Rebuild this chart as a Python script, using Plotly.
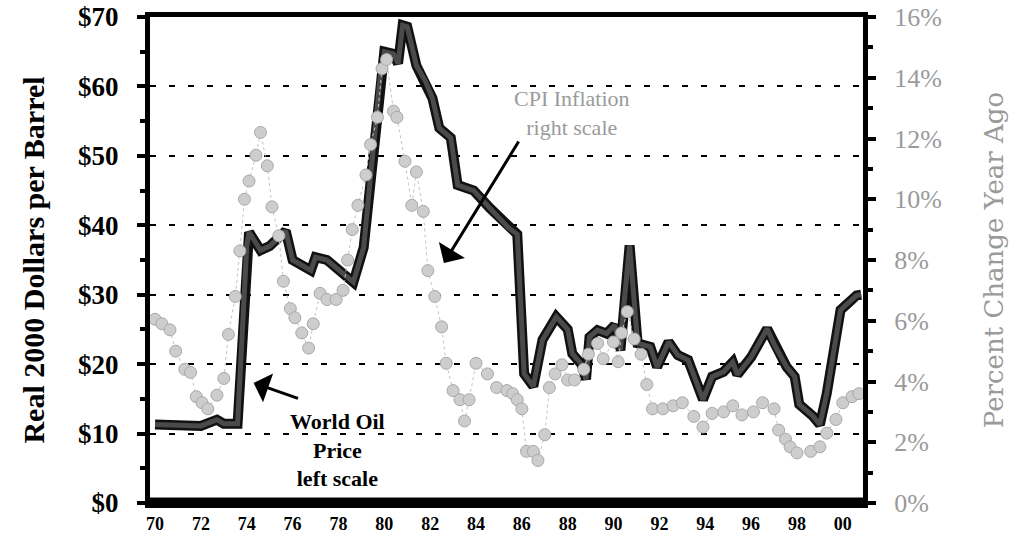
import plotly.graph_objects as go

# ---------------- data ----------------
oil_year = [1970.0, 1971.0, 1972.0, 1972.7, 1973.0, 1973.6, 1973.8, 1974.0, 1974.1, 1974.6,
            1975.0, 1975.7, 1976.0, 1976.8, 1977.0, 1977.5, 1978.4, 1978.65, 1979.1, 1979.5,
            1979.8, 1980.0, 1980.4, 1980.6, 1980.8, 1981.0, 1981.4, 1981.8, 1982.1, 1982.4,
            1982.9, 1983.2, 1983.9, 1984.6, 1985.4, 1985.8, 1986.1, 1986.5, 1986.9, 1987.5,
            1988.0, 1988.2, 1988.6, 1988.8, 1988.95, 1989.3, 1989.7, 1990.05, 1990.3, 1990.4,
            1990.7, 1991.05, 1991.6, 1991.9, 1992.4, 1992.8, 1993.25, 1993.9, 1994.3, 1994.8,
            1995.2, 1995.4, 1996.0, 1996.7, 1997.0, 1997.55, 1997.9, 1998.1, 1998.7, 1999.0,
            1999.3, 1999.9, 2000.2, 2000.6, 2000.8]
oil_price = [11.3, 11.2, 11.1, 12.0, 11.4, 11.4, 25.0, 37.0, 39.0, 36.4,
             37.0, 39.2, 35.0, 33.5, 35.4, 35.0, 32.5, 31.8, 36.8, 49.7,
             60.7, 65.0, 64.7, 63.3, 68.8, 68.6, 63.0, 60.7, 58.3, 54.0,
             52.6, 45.8, 45.0, 42.5, 39.7, 38.7, 18.6, 16.8, 23.5, 26.8,
             25.0, 21.5, 20.0, 17.8, 23.9, 24.9, 24.4, 25.6, 22.0, 26.8,
             37.1, 23.0, 22.5, 19.6, 23.2, 21.3, 20.6, 14.9, 18.2, 18.9,
             20.3, 18.5, 21.0, 25.1, 22.9, 19.6, 18.2, 14.2, 12.5, 11.3,
             15.8, 27.8, 28.7, 29.9, 30.0]

cpi_year = [1970.0, 1970.3, 1970.65, 1970.9, 1971.3, 1971.55, 1971.8, 1972.05, 1972.3, 1972.7,
            1973.0, 1973.2, 1973.5, 1973.7, 1973.9, 1974.1, 1974.4, 1974.6, 1974.9, 1975.1,
            1975.4, 1975.6, 1975.9, 1976.1, 1976.4, 1976.7, 1976.9, 1977.2, 1977.5, 1977.9,
            1978.2, 1978.4, 1978.6, 1978.85, 1979.2, 1979.4, 1979.7, 1979.9, 1980.1, 1980.4,
            1980.55, 1980.9, 1981.2, 1981.4, 1981.7, 1981.9, 1982.2, 1982.5, 1982.7, 1983.0,
            1983.3, 1983.5, 1983.7, 1984.0, 1984.5, 1984.9, 1985.35, 1985.6, 1985.8, 1986.0,
            1986.2, 1986.5, 1986.7, 1987.0, 1987.2, 1987.45, 1987.75, 1988.0, 1988.3, 1988.7,
            1988.9, 1989.3, 1989.55, 1990.0, 1990.2, 1990.35, 1990.6, 1990.9, 1991.2, 1991.45,
            1991.7, 1992.15, 1992.6, 1993.0, 1993.5, 1993.9, 1994.3, 1994.8, 1995.2, 1995.6,
            1996.1, 1996.5, 1997.0, 1997.2, 1997.5, 1997.7, 1998.0, 1998.6, 1999.0, 1999.3,
            1999.7, 2000.0, 2000.4, 2000.7]
cpi_pct = [6.05, 5.9, 5.7, 5.0, 4.4, 4.3, 3.5, 3.3, 3.1, 3.55,
           4.1, 5.55, 6.8, 8.3, 10.0, 10.6, 11.45, 12.2, 11.1, 9.75,
           8.8, 7.3, 6.4, 6.1, 5.6, 5.1, 5.9, 6.9, 6.7, 6.7,
           7.0, 8.0, 9.0, 9.8, 10.8, 11.8, 12.7, 14.3, 14.6, 12.9,
           12.7, 11.25, 9.8, 10.9, 9.6, 7.65, 6.8, 5.8, 4.6, 3.7,
           3.4, 2.7, 3.4, 4.6, 4.25, 3.8, 3.7, 3.6, 3.4, 3.1,
           1.7, 1.7, 1.4, 2.25, 3.8, 4.25, 4.55, 4.05, 4.05, 4.4,
           4.9, 5.25, 4.75, 5.3, 4.65, 5.6, 6.3, 5.4, 4.9, 3.9,
           3.1, 3.1, 3.2, 3.3, 2.85, 2.5, 2.95, 3.0, 3.2, 2.9,
           3.0, 3.3, 3.1, 2.4, 2.1, 1.85, 1.65, 1.7, 1.85, 2.3,
           2.75, 3.3, 3.5, 3.6]

x_tick_vals = [1970, 1972, 1974, 1976, 1978, 1980, 1982, 1984, 1986, 1988,
               1990, 1992, 1994, 1996, 1998, 2000]
x_tick_text = ["70", "72", "74", "76", "78", "80", "82", "84", "86", "88",
               "90", "92", "94", "96", "98", "00"]
left_tick_vals = [0, 10, 20, 30, 40, 50, 60, 70]
left_tick_text = ["$0", "$10", "$20", "$30", "$40", "$50", "$60", "$70"]
right_tick_vals = [0, 2, 4, 6, 8, 10, 12, 14, 16]
right_tick_text = ["0%", "2%", "4%", "6%", "8%", "10%", "12%", "14%", "16%"]

SERIF = "Liberation Serif, Times New Roman, serif"
GREY_TXT = "#9a9a9a"

fig = go.Figure()

# oil price: dark outline + dark grey core
fig.add_trace(go.Scatter(x=oil_year, y=oil_price, mode="lines",
                         line=dict(color="#111111", width=10), yaxis="y",
                         showlegend=False, hoverinfo="skip"))
fig.add_trace(go.Scatter(x=oil_year, y=oil_price, mode="lines",
                         line=dict(color="#4a4a4a", width=5), yaxis="y",
                         showlegend=False))

# CPI inflation dots
fig.add_trace(go.Scatter(x=cpi_year, y=cpi_pct, mode="lines+markers", yaxis="y2",
                         line=dict(color="#c4c4c4", width=1, dash="dot"),
                         marker=dict(size=12, color="#cdcdcd",
                                     line=dict(color="#a8a8a8", width=1)),
                         showlegend=False))

fig.update_layout(
    width=1009, height=536,
    margin=dict(l=150, r=146, t=17, b=33, autoexpand=False),
    paper_bgcolor="white", plot_bgcolor="white",
    xaxis=dict(range=[1969.78, 2000.88], tickvals=x_tick_vals, ticktext=x_tick_text,
               showgrid=False, zeroline=False, showline=True, linecolor="black",
               linewidth=5, mirror=True, ticks="", automargin=False,
               ticklabelstandoff=0, ticklabeloverflow="allow",
               tickfont=dict(family=SERIF, size=18, color="black", weight="bold")),
    yaxis=dict(range=[0, 70], tickvals=left_tick_vals, ticktext=left_tick_text,
               showgrid=True, gridcolor="black", gridwidth=2, griddash="6px,13px",
               zeroline=False, showline=True, linecolor="black", linewidth=5,
               automargin=False, ticklabeloverflow="allow",
               ticks="outside", ticklen=8, tickwidth=4, tickcolor="black",
               ticklabelstandoff=13,
               minor=dict(dtick=5, ticks="outside", ticklen=5, tickwidth=4,
                          tickcolor="black", showgrid=False),
               tickfont=dict(family=SERIF, size=27, color="black", weight="bold"),
               title=dict(text="Real 2000 Dollars per Barrel", standoff=26,
                          font=dict(family=SERIF, size=30, color="black", weight="bold"))),
    yaxis2=dict(range=[0, 16], tickvals=right_tick_vals, ticktext=right_tick_text,
                overlaying="y", side="right", showgrid=False, zeroline=False,
                showline=True, linecolor="black", linewidth=5, automargin=False,
                ticklabeloverflow="allow",
                ticks="outside", ticklen=8, tickwidth=4, tickcolor="black",
                ticklabelstandoff=13,
                minor=dict(dtick=1, ticks="outside", ticklen=5, tickwidth=4,
                           tickcolor="black"),
                tickfont=dict(family=SERIF, size=26, color=GREY_TXT),
                title=dict(text="Percent Change Year Ago", standoff=52,
                           font=dict(family="DejaVu Serif, serif", size=26, color=GREY_TXT))),
)

# thick bottom axis band
fig.add_shape(type="line", xref="paper", yref="y", x0=0, x1=1, y0=0, y1=0,
              line=dict(color="black", width=11))

# annotations
fig.add_annotation(text="CPI Inflation<br>right scale", xref="x", yref="y2",
                   x=1988.2, y=12.85, showarrow=False,
                   font=dict(family=SERIF, size=22, color=GREY_TXT))
fig.add_annotation(text="", xref="x", yref="y2", x=1982.6, y=7.9,
                   axref="x", ayref="y2", ax=1985.9, ay=11.95,
                   showarrow=True, arrowhead=1, arrowsize=1.7, arrowwidth=3,
                   arrowcolor="black")
fig.add_annotation(text="World Oil<br>Price<br>left scale", xref="x", yref="y",
                   x=1977.98, y=7.6, showarrow=False, align="center",
                   font=dict(family=SERIF, size=22, color="black", weight="bold"))
fig.add_annotation(text="", xref="x", yref="y", x=1974.3, y=17.3,
                   axref="x", ayref="y", ax=1976.3, ay=15.0,
                   showarrow=True, arrowhead=1, arrowsize=1.7, arrowwidth=3,
                   arrowcolor="black")

# remove the default 8px page margin so the 1009x536 figure fills the window
fig.write_html("out.html", config={"displayModeBar": False},
               post_script="document.body.style.margin='0';")
